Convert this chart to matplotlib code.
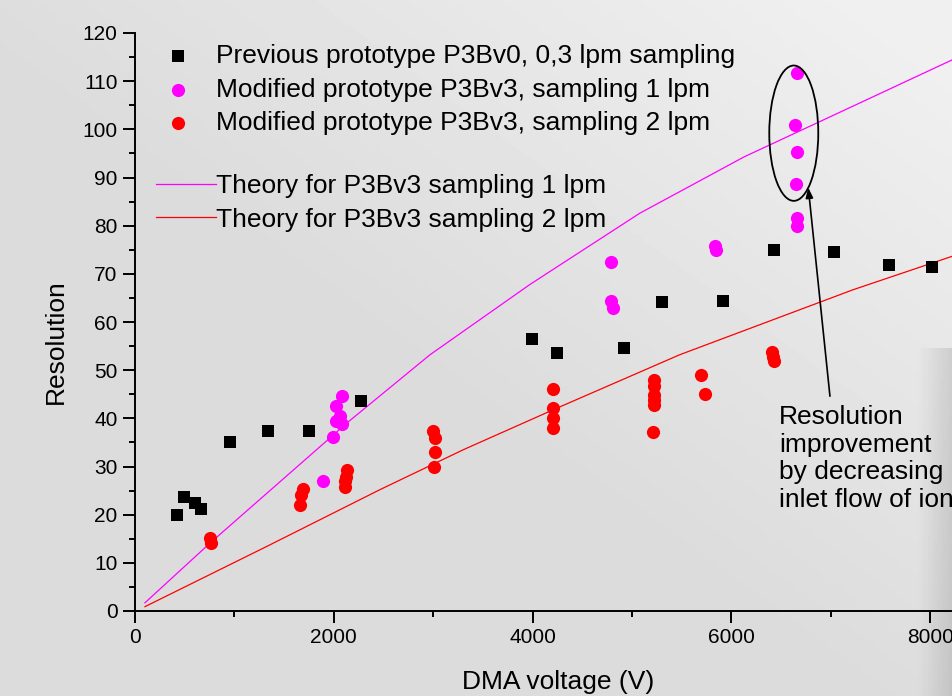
import numpy as np
import matplotlib
matplotlib.use("Agg")
import matplotlib.pyplot as plt
from matplotlib.patches import Ellipse
from matplotlib.ticker import MultipleLocator

# 数据
v0_x = [420, 490, 600, 665, 955, 1335, 1755, 2270, 3995, 4250, 4915, 5300, 5920, 6430, 7035, 7585, 8020]
v0_y = [20.0, 23.6, 22.4, 21.2, 35.0, 37.3, 37.4, 43.7, 56.5, 53.6, 54.7, 64.2, 64.4, 75.0, 74.6, 71.8, 71.4]

v3_1lpm_x = [1888, 1990, 2022, 2022, 2062, 2079, 2079, 4786, 4786, 4806, 5835, 5845,
             6657, 6640, 6657, 6650, 6657, 6657]
v3_1lpm_y = [26.9, 36.2, 39.4, 42.6, 40.4, 38.9, 44.6, 72.5, 64.3, 62.9, 75.7, 74.9,
             111.6, 100.8, 95.2, 88.7, 81.5, 79.9]

v3_2lpm_x = [750, 760, 1660, 1675, 1690, 2110, 2115, 2120, 2130, 3000, 3015, 3015, 3010,
             4210, 4210, 4210, 4210, 5220, 5220, 5220, 5220, 5220, 5215, 5690, 5735,
             6410, 6420, 6425]
v3_2lpm_y = [15.2, 14.1, 22.0, 24.0, 25.3, 25.8, 26.9, 27.9, 29.2, 37.3, 35.9, 33.0, 30.0,
             46.1, 42.1, 40.1, 38.0, 47.9, 46.8, 44.9, 43.9, 42.8, 37.1, 49.1, 45.1,
             53.8, 52.7, 52.0]

theory_1lpm_x = [100, 755, 1960, 2130, 2968, 3974, 5080, 6130, 7160, 8230]
theory_1lpm_y = [1.7, 14.1, 35.9, 39.0, 53.2, 67.8, 82.6, 94.3, 104.2, 114.5]

theory_2lpm_x = [100, 1325, 2465, 3305, 4210, 5480, 7225, 8230]
theory_2lpm_y = [0.9, 13.4, 25.2, 33.5, 41.8, 53.2, 66.7, 73.7]

plt.rcParams['font.family'] = ['Liberation Sans', 'DejaVu Sans']

fig = plt.figure(figsize=(9.53, 6.96), dpi=100)

# 灰色背景（模仿原图的照片底色）
bg_ax = fig.add_axes([0, 0, 1, 1], zorder=-10)
gx, gy = np.meshgrid(np.linspace(0, 1, 300), np.linspace(1, 0, 220))
bg = 0.86 + 0.08 * np.clip(gx + gy - 0.9, 0, 1)
bg -= 0.10 * np.clip((gx - 0.965) / 0.035, 0, 1) * (gy < 0.5)
bg_ax.imshow(bg, cmap='gray', vmin=0, vmax=1, extent=[0, 1, 0, 1], aspect='auto')
bg_ax.axis('off')

ax = fig.add_axes([135 / 953, 1 - 611 / 696, 818 / 953, 578 / 696])
ax.set_facecolor('none')

s0 = ax.scatter(v0_x, v0_y, marker='s', s=72, color='black', linewidths=0, zorder=3)
s1 = ax.scatter(v3_1lpm_x, v3_1lpm_y, marker='o', s=90, color='#ff00ff', linewidths=0, zorder=3)
s2 = ax.scatter(v3_2lpm_x, v3_2lpm_y, marker='o', s=90, color='#ff0000', linewidths=0, zorder=3)
l1, = ax.plot(theory_1lpm_x, theory_1lpm_y, color='#ff00ff', lw=0.9)
l2, = ax.plot(theory_2lpm_x, theory_2lpm_y, color='#ff0000', lw=0.9)

ax.set_xlim(0, 8230)
ax.set_ylim(0, 120)
ax.xaxis.set_major_locator(MultipleLocator(2000))
ax.xaxis.set_minor_locator(MultipleLocator(1000))
ax.yaxis.set_major_locator(MultipleLocator(10))
ax.yaxis.set_minor_locator(MultipleLocator(5))
ax.tick_params(which='major', length=8.5, width=1.4, labelsize=15, pad=4)
ax.tick_params(which='minor', length=4.5, width=1.4)
ax.spines['right'].set_visible(False)
ax.spines['top'].set_visible(False)
ax.spines['left'].set_linewidth(1.4)
ax.spines['bottom'].set_linewidth(1.4)

ax.set_xlabel('DMA voltage (V)', fontsize=19)
ax.set_ylabel('Resolution', fontsize=19)
ax.xaxis.set_label_coords((558 - 135) / 818, -(670 - 611) / 578)
ax.yaxis.set_label_coords((68 - 135) / 818, (611 - 342) / 578)

# 图例：点和理论线分两组
leg1 = ax.legend([s0, s1, s2],
                 ['Previous prototype P3Bv0, 0,3 lpm sampling',
                  'Modified prototype P3Bv3, sampling 1 lpm',
                  'Modified prototype P3Bv3, sampling 2 lpm'],
                 loc='upper left', bbox_to_anchor=(165 / 953, 1 - 44 / 696),
                 bbox_transform=fig.transFigure, frameon=False, fontsize=19,
                 handlelength=1.0, handletextpad=0.94, labelspacing=0.36,
                 borderpad=0, borderaxespad=0)
ax.add_artist(leg1)
ax.legend([l1, l2], ['Theory for P3Bv3 sampling 1 lpm', 'Theory for P3Bv3 sampling 2 lpm'],
          loc='upper left', bbox_to_anchor=(156 / 953, 1 - 174 / 696),
          bbox_transform=fig.transFigure, frameon=False, fontsize=19,
          handlelength=2.27, handletextpad=0.0, labelspacing=0.36,
          borderpad=0, borderaxespad=0)

# 椭圆和箭头标注
ax.add_patch(Ellipse((6628, 99.2), 493, 28.1, fill=False, edgecolor='black', lw=1.3, zorder=4))
ax.annotate('', xy=(6774, 87.9), xytext=(6992, 44.6),
            arrowprops=dict(arrowstyle='-|>,head_length=0.6,head_width=0.22',
                            color='black', lw=1.2, shrinkA=0, shrinkB=0))
ax.text(6479, 42.8, 'Resolution\nimprovement\nby decreasing\ninlet flow of ions',
        fontsize=19, va='top', ha='left', linespacing=1.2, clip_on=False)

plt.savefig('out.png', dpi=100)
